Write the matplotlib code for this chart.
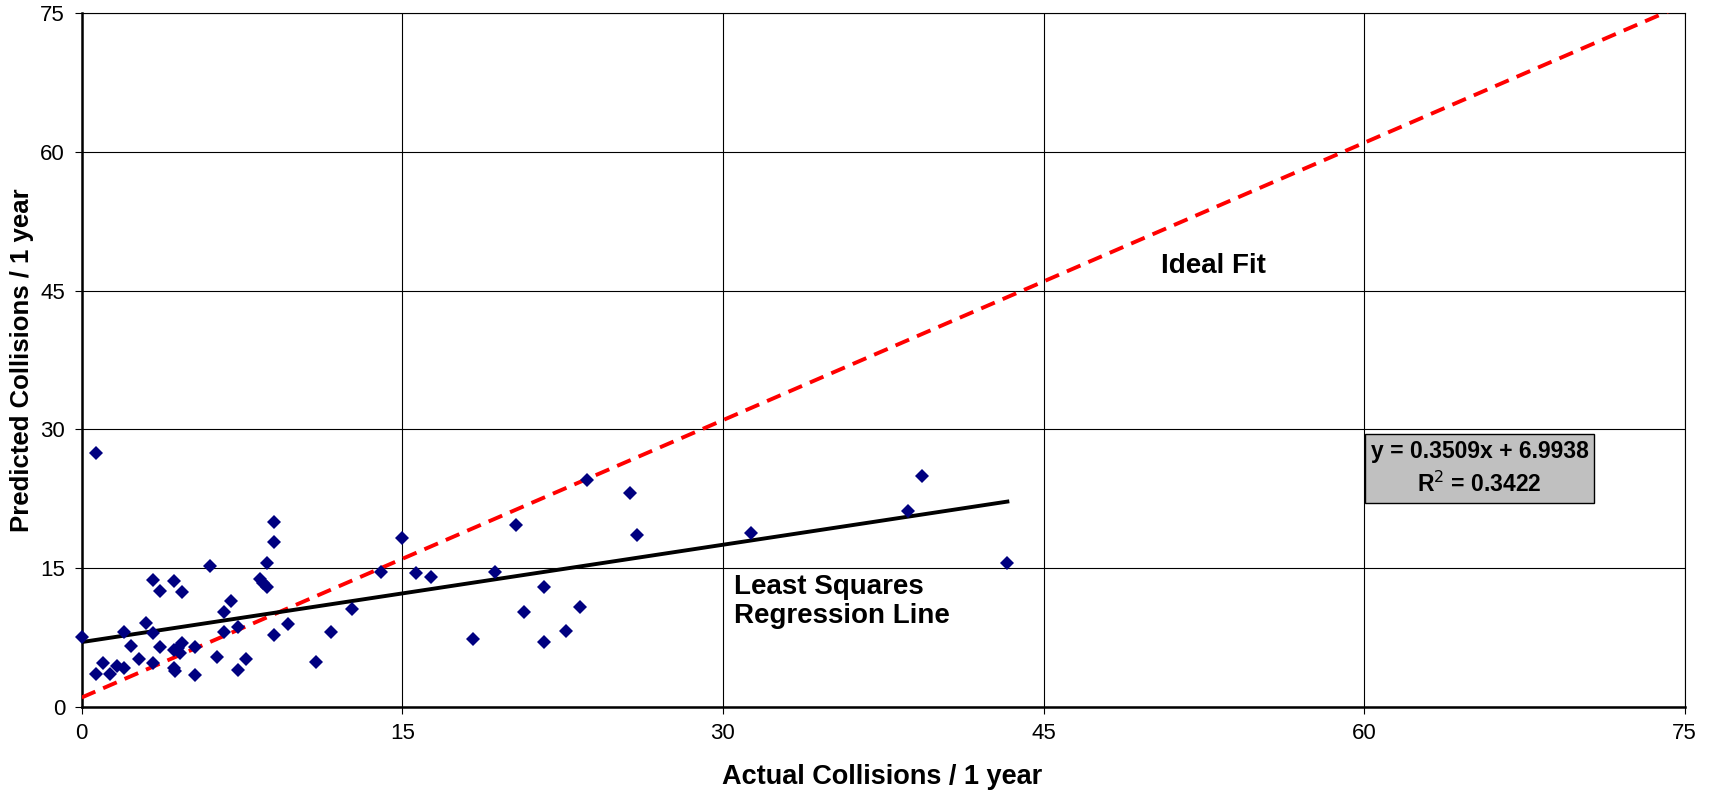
import matplotlib
matplotlib.use('Agg')
import matplotlib.pyplot as plt
import numpy as np

"""----Data read off the reference----"""
actual = [0.0, 0.67, 0.67, 0.98, 1.32, 1.64, 1.99, 1.99, 2.32, 2.67,
          3.01, 3.35, 3.35, 3.35, 3.66, 3.66, 4.32, 4.32, 4.36, 4.32,
          4.68, 4.68, 4.6, 4.5, 5.3, 5.3, 6.0, 6.32, 6.66, 6.66,
          7.0, 7.33, 7.33, 7.67, 8.34, 8.5, 8.69, 8.69, 9.0, 9.0,
          9.0, 9.67, 10.96, 11.67, 12.65, 13.99, 15.0, 15.64, 16.33, 18.33,
          19.32, 20.32, 20.67, 21.65, 21.65, 22.65, 23.32, 23.65, 25.66, 26.0,
          31.3, 38.65, 39.32, 43.31]
predicted = [7.5, 27.5, 3.54, 4.69, 3.54, 4.4, 4.19, 8.08, 6.6, 5.2,
             9.09, 7.94, 4.69, 13.7, 12.55, 6.42, 13.63, 4.15, 3.9, 6.13,
             12.44, 6.93, 5.77, 6.3, 6.5, 3.43, 15.22, 5.34, 8.08, 10.3,
             11.47, 3.97, 8.59, 5.2, 13.78, 13.4, 12.98, 15.51, 19.94, 17.82,
             7.72, 8.95, 4.87, 8.08, 10.6, 14.6, 18.21, 14.43, 14.07, 7.36,
             14.61, 19.62, 10.24, 12.98, 6.96, 8.22, 10.75, 24.49, 23.08, 18.57,
             18.75, 21.17, 24.99, 15.51]

slope = 0.3509
intercept = 6.9938
r_squared = 0.3422
ideal_offset = 1.0
ticks = [0, 15, 30, 45, 60, 75]

plt.rcParams['font.family'] = ['Liberation Sans', 'DejaVu Sans']


def main():
    fig = plt.figure(figsize=(17.1, 7.93), dpi=100)
    ax = fig.add_axes([0.0478, 0.1088, 0.9374, 0.8743])

    ax.set_xlim(0, 75)
    ax.set_ylim(0, 75)
    ax.set_xticks(ticks)
    ax.set_yticks(ticks)
    ax.grid(True, color='black', linewidth=0.8)
    ax.set_axisbelow(True)

    # ideal fit
    xi = np.array([0, 75])
    ax.plot(xi, xi + ideal_offset, color='#ff0000', linewidth=2.8,
            linestyle=(0, (3.8, 2.2)), zorder=3)

    # least squares line
    xl = np.array([0, max(actual)])
    ax.plot(xl, slope * xl + intercept, color='black', linewidth=2.8, zorder=4)

    ax.plot(actual, predicted, linestyle='none', marker='D', markersize=7,
            color='#000080', markeredgewidth=0, zorder=5, clip_on=False)

    for s in ['left', 'bottom']:
        ax.spines[s].set_linewidth(1.8)
    for s in ['top', 'right']:
        ax.spines[s].set_linewidth(0.8)

    ax.tick_params(direction='out', length=5, width=0.8, labelsize=16, pad=7)
    fig.text(0.516, 0.0208, 'Actual Collisions / 1 year', fontsize=19.5,
             fontweight='bold', ha='center', va='center')
    fig.text(22 / 1710, 0.546, 'Predicted Collisions / 1 year', fontsize=18.5,
             fontweight='bold', ha='center', va='center', rotation=90)

    ax.text(50.5, 47.7, 'Ideal Fit', fontsize=20, fontweight='bold', va='center', ha='left')
    ax.text(30.5, 14.4, 'Least Squares\nRegression Line', fontsize=20, fontweight='bold',
            va='top', ha='left', linespacing=1.15, zorder=6)
    ax.text(65.4, 25.8, 'y = %.4fx + %.4f\nR$^2$ = %.4f' % (slope, intercept, r_squared),
            fontsize=16.5, fontweight='bold', ha='center', va='center', linespacing=1.45,
            zorder=6, bbox=dict(boxstyle='square,pad=0.25', facecolor='#c0c0c0',
                                edgecolor='black', linewidth=1))

    fig.savefig('out.png', dpi=100)


if __name__ == '__main__':
    main()
